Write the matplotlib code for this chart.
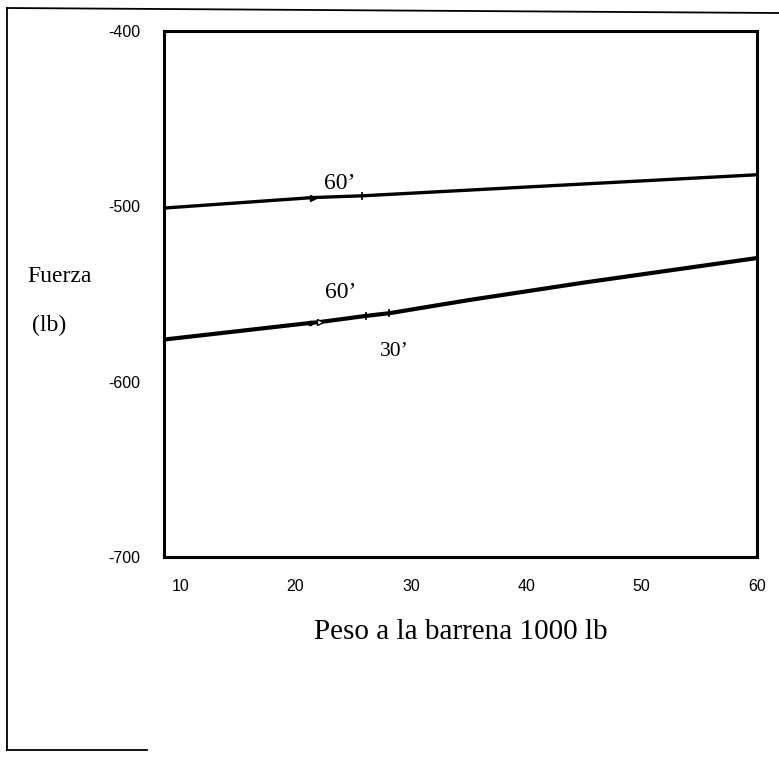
import numpy as np
import matplotlib
matplotlib.use("Agg")
from matplotlib import pyplot as plt
from matplotlib.lines import Line2D

# curva superior (60')
x_upper = [8.6, 21.5, 25.8, 40, 60]
y_upper = [-501, -495, -494, -489, -482]

# curva inferior (60' / 30')
x_lower = [8.6, 21.3, 22.1, 26.1, 28.1, 35, 45, 60]
y_lower = [-576, -566.5, -566, -562.5, -561, -553.5, -543.5, -529.5]

x_ticks = [10, 20, 30, 40, 50, 60]
y_ticks = [-400, -500, -600, -700]

serif = "Liberation Serif"
sans = "Liberation Sans"

fig = plt.figure(figsize=(7.79, 7.58), dpi=100)
ax = fig.add_axes([0.2105, 0.2652, 0.7612, 0.6939])

ax.plot(x_upper, y_upper, color="black", linewidth=2.4, solid_capstyle="butt")
ax.plot(x_lower, y_lower, color="black", linewidth=3.0, solid_capstyle="butt")

# marcas sobre las curvas
ax.plot([x_upper[1]], [y_upper[1]], marker=">", color="black", markersize=5)
ax.plot([x_upper[2]], [y_upper[2]], marker="|", color="black", markersize=6, markeredgewidth=1.2)
ax.plot([x_lower[1]], [y_lower[1]], marker="o", color="black", markersize=3)
ax.plot([x_lower[2]], [y_lower[2]], marker=">", color="black", markersize=5, markerfacecolor="white")
ax.plot([x_lower[3]], [y_lower[3]], marker="|", color="black", markersize=6, markeredgewidth=1.2)
ax.plot([x_lower[4]], [y_lower[4]], marker="|", color="black", markersize=6, markeredgewidth=1.2)

ax.text(23.85, -486.7, "60\u2019", family=serif, fontsize=17, ha="center", va="center")
ax.text(23.9, -548.9, "60\u2019", family=serif, fontsize=17, ha="center", va="center")
ax.text(28.6, -583, "30\u2019", family=serif, fontsize=15.5, ha="center", va="center")

ax.set_xlim(8.6, 60)
ax.set_ylim(-700, -400)
ax.set_xticks(x_ticks)
ax.set_yticks(y_ticks)
ax.set_xticklabels([str(v) for v in x_ticks], family=sans, fontsize=11.5)
ax.set_yticklabels([str(v) for v in y_ticks], family=sans, fontsize=11.5)
ax.tick_params(axis="both", length=0)
ax.tick_params(axis="x", pad=16)
ax.tick_params(axis="y", pad=17)
for s in ax.spines.values():
    s.set_linewidth(2.2)

fig.text(0.591, 1 - 632 / 758, "Peso a la barrena 1000 lb", family=serif, fontsize=21,
         ha="center", va="center")
fig.text(27 / 779, 1 - 277 / 758, "Fuerza", family=serif, fontsize=17, ha="left", va="center")
fig.text(32 / 779, 1 - 325 / 758, "(lb)", family=serif, fontsize=17, ha="left", va="center")

# borde de la pagina escaneada
W, H = 779.0, 758.0
fig.add_artist(Line2D([7 / W, 7 / W], [1 - 8 / H, 1 - 750 / H], color="black", linewidth=1.3))
fig.add_artist(Line2D([7 / W, 1.0], [1 - 8 / H, 1 - 13 / H], color="black", linewidth=1.3))
fig.add_artist(Line2D([7 / W, 147 / W], [1 - 750 / H, 1 - 750 / H], color="black", linewidth=1.3))

fig.savefig("out.png", dpi=100)
